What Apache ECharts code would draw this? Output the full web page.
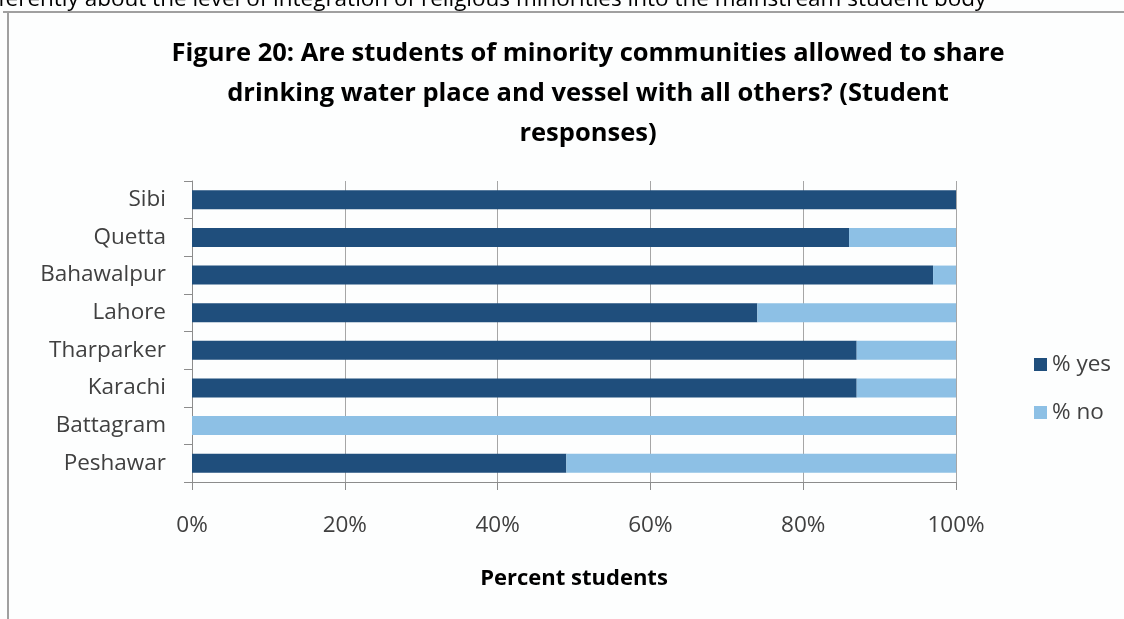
<!DOCTYPE html>
<html><head><meta charset="utf-8">
<script src="https://cdn.jsdelivr.net/npm/echarts@6/dist/echarts.min.js"></script>
<style>html,body{margin:0;padding:0;background:#fdfefe}#c{width:1124px;height:619px}</style>
</head><body><div id="c"></div>
<script>
const categories = ['Peshawar','Battagram','Karachi','Tharparker','Lahore','Bahawalpur','Quetta','Sibi'];
const yesValues = [49, 0, 87, 87, 74, 97, 86, 100];
const noValues = [51, 100, 13, 13, 26, 3, 14, 0];
const xTicks = [0, 20, 40, 60, 80, 100];
const titleText = 'Figure 20: Are students of minority communities allowed to share\ndrinking water place and vessel with all others? (Student\nresponses)';
const font = 'Open Sans';
const chart = echarts.init(document.getElementById('c'), null, {renderer:'canvas'});
chart.setOption({
  backgroundColor: '#fdfefe',
  animation: false,
  title: {
    text: titleText, left: 583, top: 29, textAlign: 'center',
    textStyle: {fontFamily: font, fontSize: 25.5, fontWeight: 'bold', color: '#000', lineHeight: 40}
  },
  graphic: [
    {type:'text', left: -2, top: -12, style:{text:'ferently about the level of integration of religious minorities into the mainstream student body', font:'22.5px "Open Sans"', fill:'#000'}},
    {type:'line', shape:{x1:3,y1:12,x2:1124,y2:12}, style:{stroke:'#a0a0a0', lineWidth:2}},
    {type:'line', shape:{x1:8,y1:12,x2:8,y2:619}, style:{stroke:'#a0a0a0', lineWidth:2}}
  ],
  legend: {
    data: ['% yes','% no'], orient: 'vertical', left: 1029, top: 348, itemGap: 25,
    itemWidth: 13, itemHeight: 13, icon: 'rect',
    textStyle: {fontFamily: font, fontSize: 22.5, color: '#404040'}
  },
  grid: {left: 192, right: 168, top: 181, bottom: 137},
  xAxis: {
    type: 'value', min: 0, max: 100, interval: 20,
    name: 'Percent students', nameLocation: 'middle', nameGap: 86,
    nameTextStyle: {fontFamily: font, fontSize: 22, fontWeight: 'bold', color: '#000'},
    axisLine: {show: true, lineStyle: {color: '#8c8c8c'}},
    axisTick: {show: true, length: 8, lineStyle: {color: '#8c8c8c'}},
    axisLabel: {formatter: v => v + '%', margin: 32, fontFamily: font, fontSize: 22.5, color: '#404040'},
    splitLine: {show: true, lineStyle: {color: '#a6a6a6'}}
  },
  yAxis: {
    type: 'category', data: categories,
    axisLine: {show: true, lineStyle: {color: '#8c8c8c'}},
    axisTick: {show: true, length: 8, lineStyle: {color: '#8c8c8c'}},
    axisLabel: {margin: 26, fontFamily: font, fontSize: 22.5, color: '#404040'}
  },
  series: [
    {name: '% yes', type: 'bar', stack: 's', data: yesValues, barWidth: 19, itemStyle: {color: '#1f4e7c'}},
    {name: '% no', type: 'bar', stack: 's', data: noValues, barWidth: 19, itemStyle: {color: '#8dc0e5'}}
  ]
});
</script></body></html>
